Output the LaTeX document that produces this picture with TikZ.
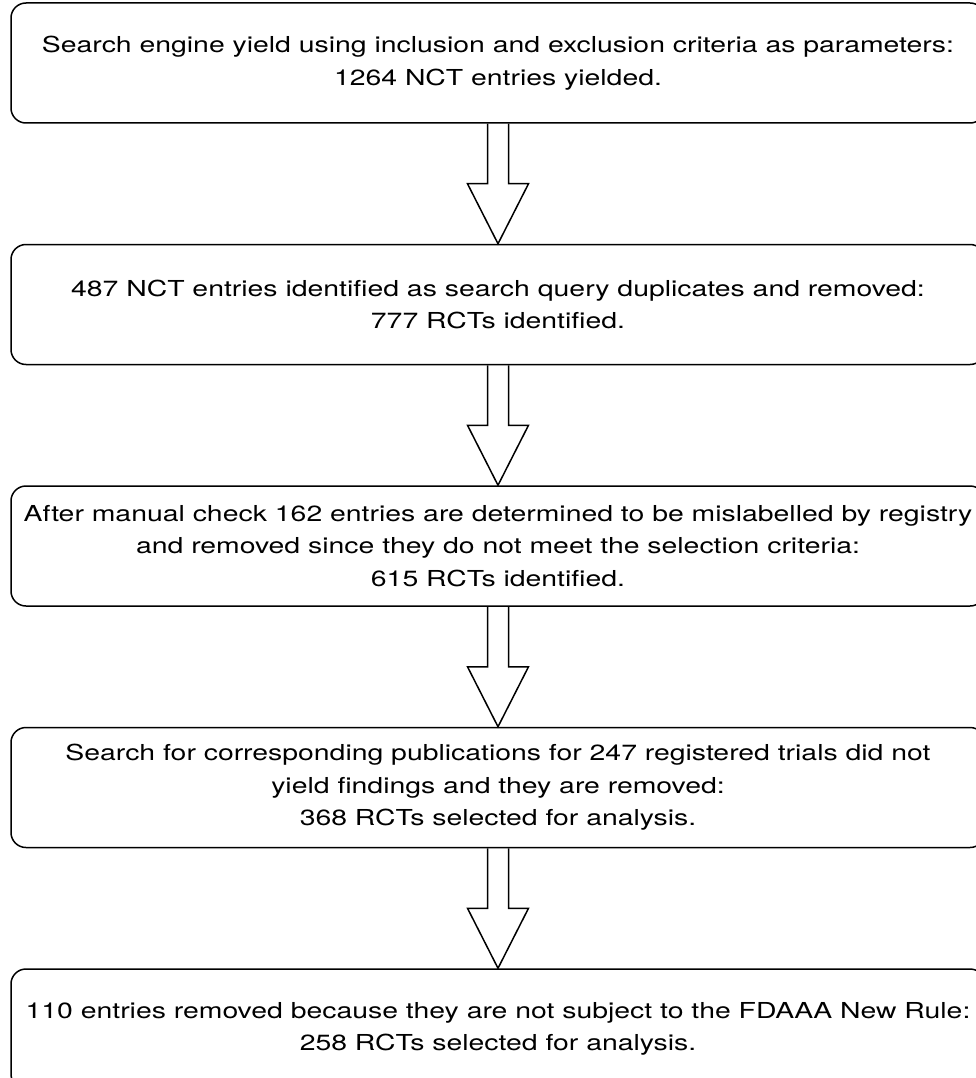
\documentclass[tikz,border=0pt]{standalone}
\usepackage{fontspec}
\setmainfont{TeX Gyre Heros}[FakeStretch=1.29]
\usetikzlibrary{positioning}
\begin{document}
\begin{tikzpicture}[x=1pt, y=-1pt, node distance=120pt,
	stage/.style={draw, line width=1.5pt, rounded corners=15pt, minimum width=974pt, minimum height=120pt, inner sep=0pt, align=center, font=\fontsize{22}{32.5}\selectfont},
	flow/.style={draw, line width=1.5pt, line join=miter}]
	\useasboundingbox (0,0) rectangle (976,1078);
	\node[stage] (s1) at (498,63) {Search engine yield using inclusion and exclusion criteria as parameters:\\1264 NCT entries yielded.};
	\node[stage, below=of s1] (s2) {487 NCT entries identified as search query duplicates and removed:\\777 RCTs identified.};
	\node[stage, below=of s2] (s3) {After manual check 162 entries are determined to be mislabelled by registry\\and removed since they do not meet the selection criteria:\\615 RCTs identified.};
	\node[stage, below=of s3] (s4) {Search for corresponding publications for 247 registered trials did not\\yield findings and they are removed:\\368 RCTs selected for analysis.};
	\node[stage, below=of s4] (s5) {110 entries removed because they are not subject to the FDAAA New Rule:\\258 RCTs selected for analysis.};
	\foreach \a/\b in {s1/s2, s2/s3, s3/s4, s4/s5}
	\draw[flow] (\a.south) ++(-10.5,0) -- ++(0,60) -- ++(-20,0) -- (\b.north) -- ++(30.5,-60) -- ++(-20,0) -- ++(0,-60);
\end{tikzpicture}
\end{document}
